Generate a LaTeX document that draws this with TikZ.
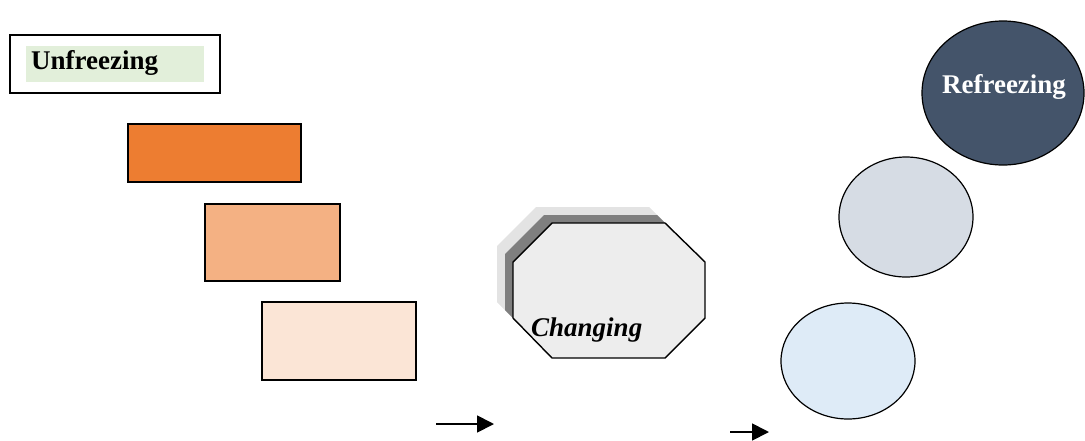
\documentclass[tikz,border=0pt]{standalone}
\usepackage{fontspec}
\setmainfont{Liberation Serif}
\usetikzlibrary{arrows.meta}
\definecolor{greenbg}{HTML}{E2EFDA}
\definecolor{or1}{HTML}{ED7D31}
\definecolor{or2}{HTML}{F4B183}
\definecolor{or3}{HTML}{FBE5D6}
\definecolor{octfill}{HTML}{EDEDED}
\definecolor{shdark}{HTML}{7F7F7F}
\definecolor{shlight}{HTML}{E3E3E3}
\definecolor{c1}{HTML}{DEEBF7}
\definecolor{c2}{HTML}{D6DCE4}
\definecolor{c3}{HTML}{44546A}
\tikzset{
  rectbox/.style={draw=black, line width=1.2pt, rectangle, inner sep=0pt},
  lbl/.style={font=\bfseries\fontsize{27}{30}\selectfont},
  arr/.style={line width=1.8pt, -{Triangle[length=17pt,width=17pt]}}
}
\begin{document}
\begin{tikzpicture}[x=1pt,y=-1pt]
\useasboundingbox (0,0) rectangle (1085,440);
% Unfreezing
\node[rectbox, line width=1.8pt, minimum width=210pt, minimum height=58pt] (ubox) at (115,64) {};
\node[fill=greenbg, minimum width=178pt, minimum height=36pt, inner sep=0pt] (ubg) at (115,64) {};
\node[lbl, anchor=west, inner sep=0pt] (utext) at (31,63) {Unfreezing};
% orange boxes
\node[rectbox, fill=or1, minimum width=173pt, minimum height=58pt] (r1) at (214.5,153) {};
\node[rectbox, fill=or2, minimum width=135pt, minimum height=77pt] (r2) at (272.5,242.5) {};
\node[rectbox, fill=or3, minimum width=154pt, minimum height=78pt] (r3) at (339,341) {};
% octagon shadows and front
\fill[shlight, shift={(-16,-16)}] (552,223) -- (665,223) -- (705,262) -- (705,318) -- (665,358) -- (552,358) -- (513,318) -- (513,262) -- cycle;
\fill[shdark, shift={(-8,-8)}] (552,223) -- (665,223) -- (705,262) -- (705,318) -- (665,358) -- (552,358) -- (513,318) -- (513,262) -- cycle;
\draw[fill=octfill, line width=1.4pt] (552,223) -- (665,223) -- (705,262) -- (705,318) -- (665,358) -- (552,358) -- (513,318) -- (513,262) -- cycle;
\node[lbl, font=\bfseries\itshape\fontsize{27}{30}\selectfont, anchor=west, inner sep=0pt] (ctext) at (531,330) {Changing};
% circles
\draw[fill=c1, line width=1.2pt] (848,361) ellipse [x radius=67, y radius=58];
\node[inner sep=0pt] (circ1) at (848,361) {};
\draw[fill=c2, line width=1.2pt] (906,217) ellipse [x radius=67, y radius=60];
\node[inner sep=0pt] (circ2) at (906,217) {};
\draw[fill=c3, line width=1.2pt] (1003,93) ellipse [x radius=81, y radius=72];
\node[lbl, text=white, inner sep=0pt] (rtext) at (1004,87) {Refreezing};
% arrows
\coordinate (a1s) at (436,424);
\coordinate (a1e) at (494,424);
\coordinate (a2s) at (730,432);
\coordinate (a2e) at (769,432);
\draw[arr] (a1s) -- (a1e);
\draw[arr] (a2s) -- (a2e);
\end{tikzpicture}
\end{document}
